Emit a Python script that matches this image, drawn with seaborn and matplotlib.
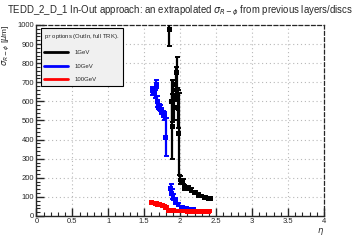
import matplotlib
matplotlib.use("Agg")
import matplotlib.pyplot as plt
from matplotlib.lines import Line2D
from matplotlib.ticker import MultipleLocator
import seaborn as sns
import pandas as pd

# ---- data ----
eta_1 = [1.85, 1.88, 1.89, 1.90, 1.92, 1.94, 1.95, 1.97, 1.98, 2.00, 2.04, 2.06,
         2.11, 2.15, 2.20, 2.25, 2.29, 2.34, 2.39, 2.42]
val_1 = [975, 600, 470, 660, 570, 690, 750, 560, 430, 188, 180, 150,
         145, 136, 122, 110, 105, 98, 93, 90]
err_1 = [85, 110, 170, 50, 70, 90, 80, 100, 215, 20, 15, 12,
         10, 10, 8, 8, 7, 6, 6, 6]

eta_10 = [1.61, 1.65, 1.67, 1.68, 1.70, 1.72, 1.74, 1.76, 1.78, 1.80,
          1.87, 1.88, 1.90, 1.93, 1.97, 2.02, 2.08, 2.14, 2.18]
val_10 = [655, 640, 690, 600, 570, 565, 550, 535, 525, 412,
          145, 115, 100, 80, 60, 45, 40, 35, 33]
err_10 = [20, 20, 20, 30, 15, 15, 15, 15, 20, 100,
          20, 25, 15, 15, 10, 8, 6, 5, 5]

eta_100 = [1.60, 1.63, 1.66, 1.69, 1.72, 1.75, 1.78, 1.80, 1.83, 1.87, 1.91,
           1.95, 2.00, 2.05, 2.10, 2.15, 2.20, 2.25, 2.30, 2.35, 2.40]
val_100 = [70, 68, 65, 62, 60, 57, 52, 45, 28, 27, 27,
           26, 26, 26, 25, 25, 25, 25, 25, 25, 25]
err_100 = [6, 6, 6, 6, 5, 5, 5, 5, 5, 5, 5,
           5, 5, 5, 5, 5, 5, 5, 5, 5, 5]

series_names = ["1GeV", "10GeV", "100GeV"]
series_colors = ["#000000", "#0000ff", "#ff0000"]
legend_title = "p$_{T}$ options (OutIn, full TRK)."
title = r"TEDD_2_D_1 In-Out approach: an extrapolated $\sigma_{R-\phi}$ from previous layers/discs"
x_ticks = [0, 0.5, 1, 1.5, 2, 2.5, 3, 3.5, 4]
y_ticks = [0, 100, 200, 300, 400, 500, 600, 700, 800, 900, 1000]

frames = []
for name, e, v, er in zip(series_names, [eta_1, eta_10, eta_100],
                          [val_1, val_10, val_100], [err_1, err_10, err_100]):
    frames.append(pd.DataFrame({"eta": e, "sigma": v, "err": er, "series": name}))
df = pd.concat(frames, ignore_index=True)

sns.set_style("ticks")
plt.rcParams["font.family"] = ["Liberation Sans", "DejaVu Sans"]
plt.rcParams["mathtext.fontset"] = "dejavusans"

fig = plt.figure(figsize=(3.6, 2.4), dpi=100)
ax = fig.add_axes([0.101, 0.1, 0.799, 0.796])

for name, col in zip(series_names, series_colors):
    sub = df[df["series"] == name]
    ax.errorbar(sub["eta"], sub["sigma"], yerr=sub["err"], fmt="none",
                ecolor=col, elinewidth=1.6, capsize=1.8, capthick=1.4, zorder=3)
sns.scatterplot(data=df, x="eta", y="sigma", hue="series", hue_order=series_names,
                palette=series_colors, marker="s", s=12, linewidth=0,
                legend=False, ax=ax, zorder=4)

ax.set_xlim(0, 4)
ax.set_ylim(0, 1000)
ax.set_xticks(x_ticks)
ax.set_xticklabels([f"{t:g}" for t in x_ticks])
ax.set_yticks(y_ticks)
ax.xaxis.set_minor_locator(MultipleLocator(0.1))
ax.yaxis.set_minor_locator(MultipleLocator(20))
ax.tick_params(which="major", direction="in", length=6, width=1.0,
               labelsize=5.5, pad=1.5, top=False, right=False)
ax.tick_params(which="minor", direction="in", length=3, width=0.8,
               top=False, right=False)
ax.grid(True, which="major", linestyle=(0, (1, 2.5)), color="#b8b8b8", linewidth=0.8)

for s in ["left", "bottom"]:
    ax.spines[s].set_linewidth(1.0)
for s in ["top", "right"]:
    ax.spines[s].set_linestyle((0, (3, 2)))
    ax.spines[s].set_linewidth(0.9)

ax.set_xlabel(r"$\eta$", fontsize=6, loc="right", labelpad=1)
ax.set_ylabel(r"$\sigma_{R-\phi}$ [$\mu$m]", fontsize=6, loc="top")
ax.yaxis.set_label_coords(-0.083, 1.0)
fig.suptitle(title, fontsize=6.9, y=0.985)

handles = [Line2D([0], [0], color=c, lw=2) for c in series_colors]
leg = ax.legend(handles, series_names, title=legend_title, loc="upper left",
                bbox_to_anchor=(0.005, 0.998), fontsize=4.3, title_fontsize=4.3,
                frameon=True, fancybox=False, framealpha=1, edgecolor="black",
                facecolor="#f0f0f0", handlelength=4.0, labelspacing=1.45,
                borderpad=0.6, alignment="left", handletextpad=1.0)
leg.get_frame().set_linewidth(0.8)
leg._legend_box.align = "left"

fig.savefig("out.png", dpi=100)
